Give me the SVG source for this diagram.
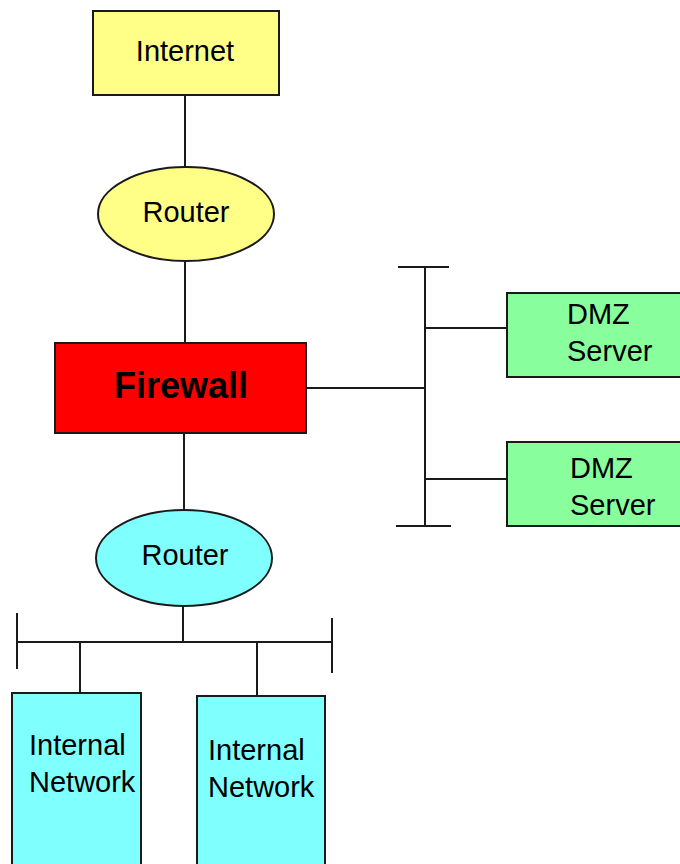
<svg xmlns="http://www.w3.org/2000/svg" width="680" height="864" viewBox="0 0 680 864">
<style>
.box{stroke:#1a1a1a;stroke-width:2}
.wire{stroke:#1a1a1a;stroke-width:2;fill:none}
.t{font-family:"Liberation Sans",Arial,sans-serif;font-size:29px;fill:#000}
.c{text-anchor:middle}
.fw{font-size:36px;font-weight:bold}
.y{fill:#FFFF88}
.g{fill:#88FF9C}
.cy{fill:#80FFFF}
.r{fill:#FF0000}
</style>
<rect width="680" height="864" fill="#fff"/>
<g id="connectors">
<line class="wire" x1="185" y1="95" x2="185" y2="167"/>
<line class="wire" x1="185" y1="262" x2="185" y2="343"/>
<line class="wire" x1="184" y1="433" x2="184" y2="511"/>
<line class="wire" x1="306" y1="388" x2="425" y2="388"/>
<line class="wire" x1="425" y1="267" x2="425" y2="526"/>
<line class="wire" x1="398" y1="267" x2="449" y2="267"/>
<line class="wire" x1="396" y1="526" x2="451" y2="526"/>
<line class="wire" x1="425" y1="328" x2="507" y2="328"/>
<line class="wire" x1="425" y1="479" x2="507" y2="479"/>
<line class="wire" x1="183" y1="606" x2="183" y2="642"/>
<line class="wire" x1="17" y1="642" x2="332" y2="642"/>
<line class="wire" x1="17" y1="613" x2="17" y2="669"/>
<line class="wire" x1="332" y1="618" x2="332" y2="673"/>
<line class="wire" x1="80" y1="642" x2="80" y2="693"/>
<line class="wire" x1="257" y1="642" x2="257" y2="696"/>
</g>
<g id="internet">
<rect class="box y" x="93" y="11" width="186" height="84"/>
<text class="t c" x="185" y="61">Internet</text>
</g>
<g id="router-top">
<ellipse class="box y" cx="186" cy="214" rx="88" ry="47"/>
<text class="t c" x="186" y="222">Router</text>
</g>
<g id="firewall">
<rect class="box r" x="55" y="343" width="251" height="90"/>
<text class="t c fw" x="181" y="398">Firewall</text>
</g>
<g id="dmz1">
<rect class="box g" x="507" y="293" width="180" height="84"/>
<text class="t" x="567" y="324">DMZ</text>
<text class="t" x="567" y="361">Server</text>
</g>
<g id="dmz2">
<rect class="box g" x="507" y="442" width="180" height="84"/>
<text class="t" x="570" y="478">DMZ</text>
<text class="t" x="570" y="515">Server</text>
</g>
<g id="router-bottom">
<ellipse class="box cy" cx="184" cy="558" rx="88" ry="48"/>
<text class="t c" x="185" y="565">Router</text>
</g>
<g id="internal1">
<rect class="box cy" x="12" y="693" width="129" height="180"/>
<text class="t" x="29" y="755">Internal</text>
<text class="t" x="29" y="792">Network</text>
</g>
<g id="internal2">
<rect class="box cy" x="197" y="696" width="128" height="180"/>
<text class="t" x="208" y="760">Internal</text>
<text class="t" x="208" y="797">Network</text>
</g>
</svg>
